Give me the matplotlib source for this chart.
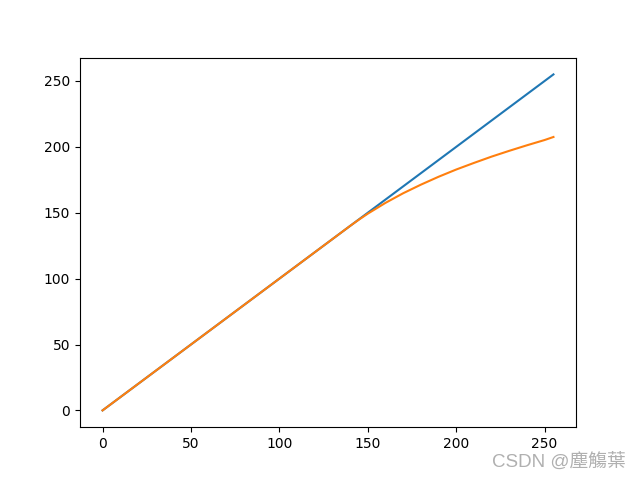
import matplotlib
matplotlib.use("Agg")
import matplotlib.pyplot as plt
import numpy as np

# identity line
x_linear = [0, 255]
y_linear = [0, 255]

# compressed curve
x_curve = [0, 140, 145, 150, 160, 170, 180, 190, 200, 210, 220, 230, 240, 250, 255]
y_curve = [0, 140, 144.8, 149.3, 157.5, 164.8, 171.3, 177.3, 182.8, 187.8, 192.6, 197.0, 201.2, 205.2, 207.5]

watermark = "CSDN @塵觴葉"

fig, ax = plt.subplots(figsize=(6.4, 4.8), dpi=100)
ax.plot(x_linear, y_linear, color="#1f77b4")
ax.plot(x_curve, y_curve, color="#ff7f0e")

fig.text(0.977, 0.02, watermark, ha="right", va="bottom", color="#b0b0b0",
         fontsize=13.5, family=["Liberation Sans", "Noto Sans CJK TC"])

fig.savefig("out.png", dpi=100)
